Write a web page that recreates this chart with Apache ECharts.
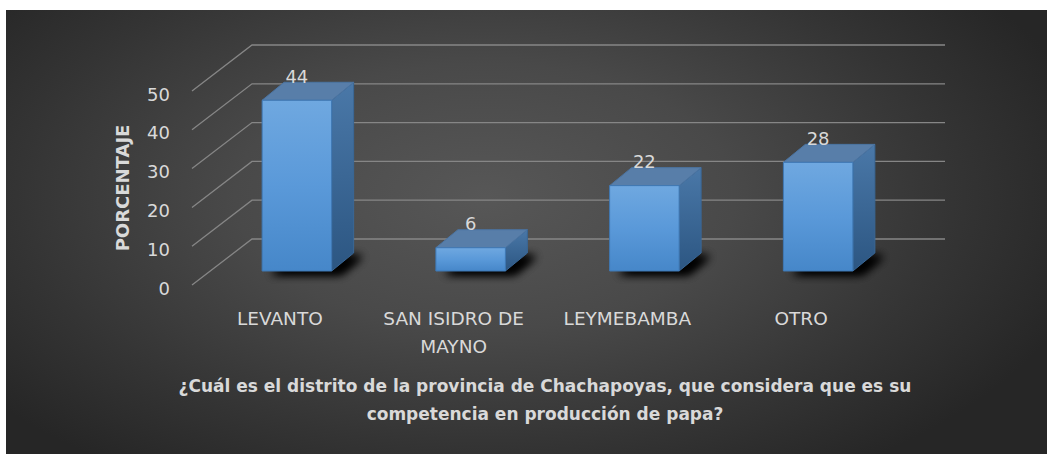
<!DOCTYPE html>
<html>
<head>
<meta charset="utf-8">
<script src="https://cdn.jsdelivr.net/npm/echarts@6/dist/echarts.min.js"></script>
<style>
html,body{margin:0;padding:0;background:#ffffff;width:1047px;height:454px;overflow:hidden;}
#chart{position:absolute;left:6px;top:10px;width:1041px;height:444px;
background:radial-gradient(ellipse 60% 75% at 46% 42%, #575757 0%, #494949 40%, #343434 75%, #262626 100%);}
</style>
</head>
<body>
<div id="chart"></div>
<script>
var categories = ['LEVANTO', 'SAN ISIDRO DE MAYNO', 'LEYMEBAMBA', 'OTRO'];
var values = [44, 6, 22, 28];
var yTicks = [0, 10, 20, 30, 40, 50];
var titleText = '¿Cuál es el distrito de la provincia de Chachapoyas, que considera que es su\ncompetencia en producción de papa?';
var yName = 'PORCENTAJE';

var FONT = '"DejaVu Sans", "Liberation Sans", sans-serif';
var TXT = '#d9d9d9';
var chart = echarts.init(document.getElementById('chart'), null, {renderer: 'svg'});

var DX = 22, DY = -18;

var option = {
  backgroundColor: 'transparent',
  animation: false,
  title: {
    text: titleText,
    left: 534, top: 357, textAlign: 'center',
    textStyle: {color: TXT, fontFamily: FONT, fontSize: 17, fontWeight: 'bold', lineHeight: 28}
  },
  grid: {left: 204, top: 67, width: 695, height: 194},
  xAxis: {
    type: 'category', data: categories,
    axisLine: {show: false}, axisTick: {show: false}, splitLine: {show: false},
    axisLabel: {
      color: TXT, fontFamily: FONT, fontSize: 18.5, lineHeight: 28, margin: 33,
      padding: [0, 34, 0, 0], interval: 0,
      formatter: function (s) { return s.replace(' DE ', ' DE\n'); }
    }
  },
  yAxis: {
    type: 'value', min: 0, max: 50, interval: 10,
    name: yName, nameLocation: 'middle', nameRotate: 90, nameGap: 79,
    nameTextStyle: {color: TXT, fontFamily: FONT, fontSize: 18, fontWeight: 'bold', padding: [0, 28, 0, 0]},
    axisLine: {show: false}, axisTick: {show: false}, splitLine: {show: false},
    axisLabel: {color: TXT, fontFamily: FONT, fontSize: 18, margin: 40, verticalAlign: 'top', lineHeight: 34}
  },
  series: [
    {
      type: 'custom', z: 1, silent: true,
      data: yTicks.map(function (t) { return [0, t]; }),
      encode: {x: 0, y: 1},
      renderItem: function (params, api) {
        var cs = params.coordSys;
        var y = api.coord([0, api.value(1)])[1];
        var left = cs.x, right = cs.x + cs.width;
        return {
          type: 'polyline',
          shape: {points: [[left - 18, y + 14], [left + 42, y - 32], [right + 40, y - 32]]},
          style: {stroke: '#868686', lineWidth: 1.3, fill: null}
        };
      }
    },
    {
      type: 'custom', z: 2, silent: true,
      data: values.map(function (v, i) { return [i, v]; }),
      encode: {x: 0, y: 1},
      renderItem: function (params, api) {
        var i = api.value(0), v = api.value(1);
        var p0 = api.coord([i, 0]);
        var p1 = api.coord([i, v]);
        var bw = api.size([1, 0])[0];
        var w = bw * 0.2;
        var x = p0[0], y0 = p0[1], y1 = p1[1];
        var foot = [[x - w, y0], [x + w, y0], [x + w + DX, y0 + DY], [x - w + DX, y0 + DY]];
        var shadowStyle = {fill: '#000', shadowBlur: 10, shadowColor: 'rgba(0,0,0,1)', shadowOffsetX: 9, shadowOffsetY: 3};
        return {
          type: 'group',
          children: [
            {type: 'polygon', shape: {points: foot}, style: shadowStyle},
            {type: 'polygon', shape: {points: foot}, style: shadowStyle},
            {
              type: 'polygon',
              shape: {points: [[x + w, y1], [x + w + DX, y1 + DY], [x + w + DX, y0 + DY], [x + w, y0]]},
              style: {
                fill: new echarts.graphic.LinearGradient(0, 0, 0, 1, [{offset: 0, color: '#4a78a8'}, {offset: 1, color: '#2c5682'}]),
                stroke: '#3a6796', lineWidth: 1
              }
            },
            {
              type: 'polygon',
              shape: {points: [[x - w, y1], [x + w, y1], [x + w + DX, y1 + DY], [x - w + DX, y1 + DY]]},
              style: {fill: '#587ea9', stroke: '#4b74a2', lineWidth: 1}
            },
            {
              type: 'rect',
              shape: {x: x - w, y: y1, width: 2 * w, height: y0 - y1},
              style: {
                fill: new echarts.graphic.LinearGradient(0, 0, 0, 1, [{offset: 0, color: '#6fa8e0'}, {offset: 0.5, color: '#5a99d9'}, {offset: 1, color: '#4687c9'}]),
                stroke: '#3f78b4', lineWidth: 1
              }
            },
            {
              type: 'text',
              style: {
                text: String(v), x: x, y: y1 + DY + 3,
                align: 'center', verticalAlign: 'bottom',
                fill: TXT, fontFamily: FONT, fontSize: 18
              }
            }
          ]
        };
      }
    }
  ]
};
chart.setOption(option);
</script>
</body>
</html>
